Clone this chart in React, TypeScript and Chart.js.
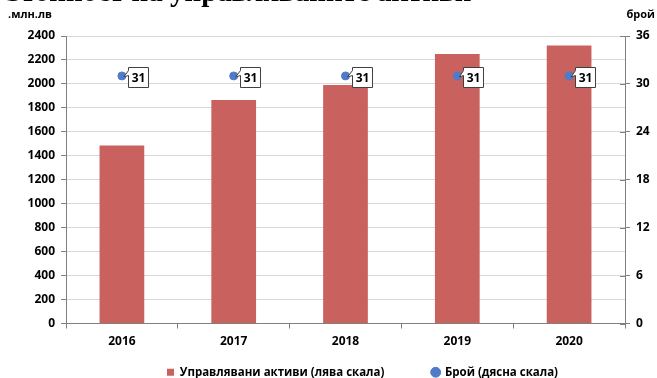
import React, { useEffect, useRef } from "react";
import { Chart, registerables } from "chart.js";

Chart.register(...registerables);

const categories = ["2016", "2017", "2018", "2019", "2020"];
const assetValues = [1485, 1865, 1990, 2250, 2320];
const countValues = [31, 31, 31, 31, 31];
const leftMax = 2400;
const leftStep = 200;
const rightMax = 36;
const rightStep = 6;
const seriesNames = ["Управлявани активи (лява скала)", "Брой (дясна скала)"];
const leftAxisTitle = ".млн.лв";
const rightAxisTitle = "брой";
const titlePrefix = "Стойност на ";
const titleText = "Стойност на управляваните активи";

const FONT = '"Open Sans", "DejaVu Sans", sans-serif';
const BAR_COLOR = "#C9625F";
const DOT_COLOR = "#4F7BC8";

const extrasPlugin = {
  id: "extras",
  afterLayout(chart: any) {
    const lg = chart.legend;
    if (lg) {
      lg.left += 34;
      lg.right += 34;
    }
  },
  afterDraw(chart: any) {
    const ctx = chart.ctx;
    ctx.save();
    // cropped title (only its lowest part shows at the top edge)
    ctx.font = 'bold 29px "Liberation Serif", serif';
    ctx.fillStyle = "#000";
    ctx.textBaseline = "alphabetic";
    ctx.textAlign = "left";
    const pw = ctx.measureText(titlePrefix).width;
    ctx.fillText(titleText, 170 - pw, 1);
    // axis titles
    ctx.font = "bold 11px " + FONT;
    ctx.textBaseline = "middle";
    ctx.textAlign = "left";
    ctx.fillText(leftAxisTitle, 8, 15);
    ctx.textAlign = "right";
    ctx.fillText(rightAxisTitle, 655, 15);
    // right axis tick marks crossing into plot
    const y1 = chart.scales.y1;
    ctx.strokeStyle = "#808080";
    ctx.lineWidth = 1;
    y1.ticks.forEach((t: any) => {
      const yy = Math.round(y1.getPixelForValue(t.value)) + 0.5;
      ctx.beginPath();
      ctx.moveTo(chart.chartArea.right - 5, yy);
      ctx.lineTo(chart.chartArea.right, yy);
      ctx.stroke();
    });
    // data labels (callouts)
    const meta = chart.getDatasetMeta(1);
    ctx.font = "bold 12px " + FONT;
    meta.data.forEach((pt: any, i: number) => {
      const px = pt.x;
      const py = pt.y;
      const bx = Math.round(px + 6) + 0.5;
      const by = Math.round(py - 9) + 0.5;
      const bw = 20;
      const bh = 20;
      ctx.beginPath();
      ctx.moveTo(bx, by);
      ctx.lineTo(bx + bw, by);
      ctx.lineTo(bx + bw, by + bh);
      ctx.lineTo(bx, by + bh);
      ctx.lineTo(bx, by + 8);
      ctx.lineTo(px + 2, py + 1);
      ctx.lineTo(bx, by + 3);
      ctx.closePath();
      ctx.fillStyle = "#fff";
      ctx.fill();
      ctx.strokeStyle = "#404040";
      ctx.lineWidth = 1;
      ctx.stroke();
      ctx.fillStyle = "#000";
      ctx.textAlign = "center";
      ctx.textBaseline = "middle";
      ctx.fillText(String(countValues[i]), bx + bw / 2, by + bh / 2 + 1);
    });
    ctx.restore();
  },
};

export default function App() {
  const ref = useRef<HTMLCanvasElement>(null);
  useEffect(() => {
    const chart = new Chart(ref.current!, {
      type: "bar",
      data: {
        labels: categories,
        datasets: [
          {
            type: "bar",
            label: seriesNames[0],
            data: assetValues,
            backgroundColor: BAR_COLOR,
            borderWidth: 0,
            barPercentage: 0.4,
            categoryPercentage: 1,
            yAxisID: "y",
            order: 2,
            pointStyle: "rect",
          } as any,
          {
            type: "line",
            label: seriesNames[1],
            data: countValues,
            showLine: false,
            pointRadius: 4,
            pointBackgroundColor: DOT_COLOR,
            pointBorderColor: DOT_COLOR,
            backgroundColor: DOT_COLOR,
            borderColor: DOT_COLOR,
            yAxisID: "y1",
            order: 1,
            pointStyle: "circle",
          } as any,
        ],
      },
      options: {
        animation: false,
        responsive: false,
        layout: { padding: { top: 36, left: 0, right: 0, bottom: -10 } },
        plugins: {
          legend: {
            position: "bottom",
            labels: {
              usePointStyle: true,
              boxWidth: 7,
              boxHeight: 7,
              padding: 0,
              color: "#000",
              font: { family: FONT, size: 11.5, weight: "bold" },
              sort: (a: any, b: any) => a.datasetIndex - b.datasetIndex,
              generateLabels: (chart: any) => {
                const items = Chart.defaults.plugins.legend.labels.generateLabels(chart);
                return items.map((it: any) => ({
                  ...it,
                  text: it.datasetIndex === 0 ? it.text + "                " : it.text,
                }));
              },
            },
          },
          tooltip: { enabled: false },
          title: { display: false },
        },
        scales: {
          x: {
            grid: {
              offset: true,
              drawOnChartArea: false,
              tickLength: 5,
              tickColor: "#808080",
            },
            border: { color: "#808080" },
            ticks: {
              color: "#000",
              padding: 6,
              font: { family: FONT, size: 12, weight: "bold" },
            },
            afterFit(s: any) {
              s.height = 43;
            },
          },
          y: {
            position: "left",
            min: 0,
            max: leftMax,
            ticks: {
              stepSize: leftStep,
              color: "#000",
              padding: 6,
              font: { family: FONT, size: 12, weight: "bold" },
              callback: (v: any) => String(v),
            },
            grid: { color: "#D9D9D9", tickColor: "#808080", tickLength: 5 },
            border: { color: "#808080" },
            afterFit(s: any) {
              s.width = 66;
            },
          },
          y1: {
            position: "right",
            min: 0,
            max: rightMax,
            ticks: {
              stepSize: rightStep,
              color: "#000",
              padding: 6,
              font: { family: FONT, size: 12, weight: "bold" },
              callback: (v: any) => String(v),
            },
            grid: { drawOnChartArea: false, tickColor: "#808080", tickLength: 5 },
            border: { color: "#808080" },
            afterFit(s: any) {
              s.width = 32;
            },
          },
        },
      },
      plugins: [extrasPlugin],
    });
    return () => chart.destroy();
  }, []);
  return (
    <div style={{ position: "fixed", left: 0, top: 0, width: 657, height: 378, background: "#fff" }}>
      <canvas ref={ref} width={657} height={378} style={{ display: "block" }} />
    </div>
  );
}
